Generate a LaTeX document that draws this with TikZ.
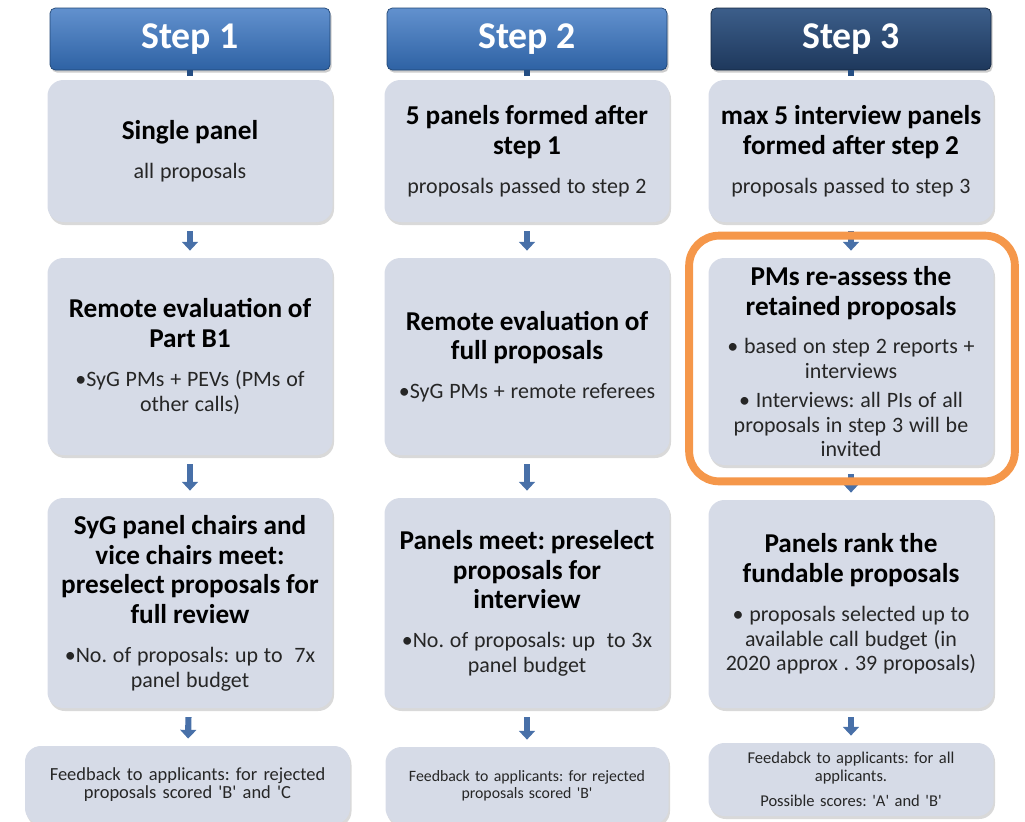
\documentclass[tikz,border=0pt]{standalone}
\usepackage{fontspec}
\setmainfont{Carlito}[Ligatures=TeXOff]
\usetikzlibrary{arrows.meta,shadows}
\frenchspacing

\definecolor{panelfill}{RGB}{214,219,231}
\definecolor{bodygray}{RGB}{38,38,38}
\definecolor{headtop}{RGB}{98,145,206}
\definecolor{headbot}{RGB}{46,98,164}
\definecolor{headdarktop}{RGB}{60,94,138}
\definecolor{headdarkbot}{RGB}{30,56,92}
\definecolor{flowblue}{RGB}{72,112,168}
\definecolor{frameorange}{RGB}{245,151,74}

\newcommand{\boxtitle}[1]{{\fontsize{15.5}{17}\selectfont\bfseries #1\par}\vspace{8pt}}
\newcommand{\boxbody}[1]{{\fontsize{12.5}{14}\selectfont\color{bodygray}#1\par}}
\newcommand{\fbtext}[1]{{\color{bodygray}#1\par}}

\tikzset{
    header/.style={rectangle, rounded corners=3pt, draw=headbot!70!black,
        top color=headtop, bottom color=headbot, text=white,
        font=\fontsize{21.5}{24}\selectfont\bfseries,
        minimum width=5.6cm, minimum height=1.24cm,
        drop shadow={shadow xshift=0.03cm, shadow yshift=-0.05cm, opacity=0.4}},
    darkheader/.style={header, draw=headdarkbot!70!black,
        top color=headdarktop, bottom color=headdarkbot},
    panel/.style={rectangle, rounded corners=9pt, fill=panelfill,
        minimum width=5.7cm, text width=5.5cm, align=center, inner sep=0pt,
        drop shadow={shadow xshift=0.03cm, shadow yshift=-0.06cm, opacity=0.3}},
    feedback/.style={panel, text width=6.2cm},
    flow/.style={-{Triangle[width=9pt,length=5pt]}, line width=3.5pt, flowblue,
        shorten <=5pt, shorten >=4pt},
    stub/.style={line width=3.5pt, headbot!80!black, shorten <=0pt, shorten >=2pt},
    frame/.style={line width=4.5pt, frameorange, rounded corners=0.6cm}
}

\begin{document}
\begin{tikzpicture}
    \useasboundingbox (0,0) rectangle (20.5,-16.42);

    % step headers
    \node[header] (h1) at (3.8,-0.78) {Step 1};
    \node[header] (h2) at (10.54,-0.78) {Step 2};
    \node[darkheader] (h3) at (17.02,-0.78) {Step 3};

    % step 1
    \node[panel, minimum height=2.84cm] (a1) at (3.8,-3.02)
        {\boxtitle{Single panel}\boxbody{all proposals}};
    \node[panel, minimum height=3.94cm] (a2) at (3.8,-7.13)
        {\boxtitle{Remote evaluation of\\Part B1}\boxbody{•SyG PMs + PEVs (PMs of\\other calls)}};
    \node[panel, minimum height=4.2cm] (a3) at (3.8,-12.06)
        {\boxtitle{SyG panel chairs and\\vice chairs meet:\\preselect proposals for\\full review}\boxbody{•No. of proposals: up to\ \ 7x\\panel budget}};
    \node[feedback, minimum width=6.5cm, minimum height=1.56cm,
        font=\fontsize{10.5}{10.3}\selectfont] (a4) at (3.75,-15.7)
        {\fbtext{Feedback to applicants: for rejected\\proposals scored 'B' and 'C}};

    % step 2
    \node[panel, minimum height=2.84cm] (b1) at (10.54,-3.02)
        {\boxtitle{5 panels formed after\\step 1}\boxbody{proposals passed to step 2}};
    \node[panel, minimum height=3.94cm] (b2) at (10.54,-7.13)
        {\boxtitle{Remote evaluation of\\full proposals}\boxbody{•SyG PMs + remote referees}};
    \node[panel, minimum height=4.2cm] (b3) at (10.54,-12.06)
        {\boxtitle{Panels meet: preselect\\proposals for\\interview}\boxbody{•No. of proposals: up\ \ to 3x\\panel budget}};
    \node[feedback, minimum width=5.66cm, minimum height=1.54cm, text width=5.5cm,
        font=\fontsize{9}{9.6}\selectfont] (b4) at (10.54,-15.71)
        {\fbtext{Feedback to applicants: for rejected\\proposals scored 'B'}};

    % step 3
    \node[panel, minimum height=2.84cm] (c1) at (17.02,-3.02)
        {\boxtitle{max 5 interview panels\\formed after step 2}\boxbody{proposals passed to step 3}};
    \node[panel, minimum height=4.14cm] (c2) at (17.02,-7.23)
        {\boxtitle{PMs re-assess the\\retained proposals}\boxbody{• based on step 2 reports +\\interviews}\vspace{2.5pt}\boxbody{• Interviews: all PIs of all\\proposals in step 3 will be\\invited}};
    \node[panel, minimum height=4.16cm] (c3) at (17.02,-12.08)
        {\boxtitle{Panels rank the\\fundable proposals}\boxbody{• proposals selected up to\\available call budget (in\\2020 approx . 39 proposals)}};
    \node[feedback, minimum width=5.7cm, minimum height=1.46cm, text width=5.5cm,
        font=\fontsize{9.4}{10.2}\selectfont] (c4) at (17.02,-15.59)
        {\fbtext{Feedabck to applicants: for all\\applicants.}\vspace{4pt}\fbtext{Possible scores: 'A' and 'B'}};

    % connectors
    \draw[stub] (h1) -- (a1);
    \draw[stub] (h2) -- (b1);
    \draw[stub] (h3) -- (c1);
    \foreach \col in {a,b,c} {
        \draw[flow] (\col1) -- (\col2);
        \draw[flow] (\col2) -- (\col3);
        \draw[flow] (\col3) -- (\col4);
    }

    % highlight of the interview step
    \draw[frame] ([shift={(-0.38cm,0.44cm)}]c2.north west) rectangle ([shift={(0.42cm,-0.32cm)}]c2.south east);
\end{tikzpicture}
\end{document}
